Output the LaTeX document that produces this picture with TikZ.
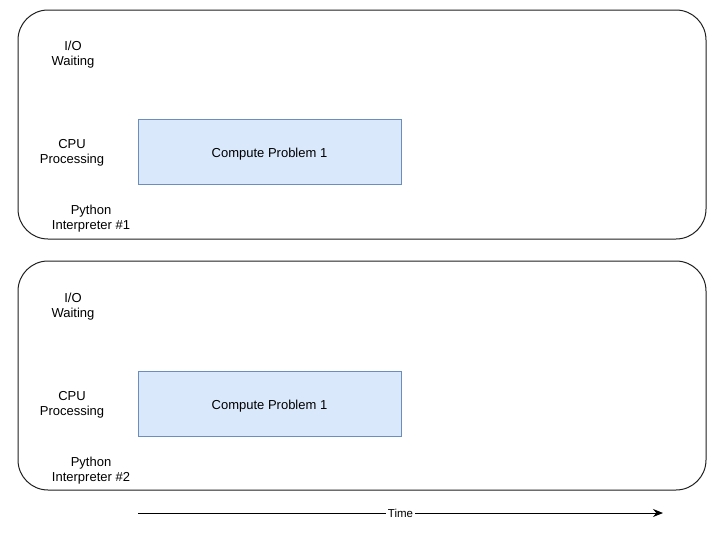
\documentclass[tikz,border=0pt]{standalone}
\usepackage{fontspec}
\setmainfont{Liberation Sans}
\usepackage{tikz}
\usetikzlibrary{arrows.meta,positioning}
\usepackage{xcolor}
\definecolor{taskfill}  {RGB}{218,232,252}
\definecolor{taskborder}{RGB}{108,142,191}
\definecolor{laneline}  {RGB}{30 , 30 , 30}

\begin{document}
\begin{tikzpicture}[
  x=1pt, y=-1pt,
  every node/.style={font=\fontsize{13}{15}\selectfont, align=center, inner sep=0pt},
  lane/.style={draw=laneline, line width=1pt, rounded corners=30pt, minimum width=688pt, minimum height=229pt},
  task/.style={draw=taskborder, fill=taskfill, line width=1pt, minimum width=263pt, minimum height=65pt, text height=11pt, text depth=0pt},
  arrow/.style={-{Stealth[length=10pt,width=8pt]}, line width=1pt}
]
  \useasboundingbox (0,0) rectangle (726,533);

  % Interpreter 1
  \node (lane1) [lane] at (362,124.5) {};
  \node (io1) at (73,55) {I/O\\Waiting};
  \node (cpu1) at (72,153) {CPU\\Processing};
  \node (py1) at (91,219) {Python\\Interpreter \#1};
  \node (task1) [task] at (269.5,151.5) {Compute Problem 1};

  % Interpreter 2
  \node (lane2) [lane] at (362,375.5) {};
  \node (io2) at (73,306.5) {I/O\\Waiting};
  \node (cpu2) at (72,405) {CPU\\Processing};
  \node (py2) at (91,470.5) {Python\\Interpreter \#2};
  \node (task2) [task] at (269.5,403.5) {Compute Problem 1};

  % Time axis
  \coordinate (tstart) at (138,513);
  \coordinate (tend) at (663,513);
  \draw [arrow] (tstart) -- node[fill=white, inner xsep=1.5pt, inner ysep=1pt, font=\fontsize{11.5}{13}\selectfont] {Time} (tend);
\end{tikzpicture}
\end{document}
